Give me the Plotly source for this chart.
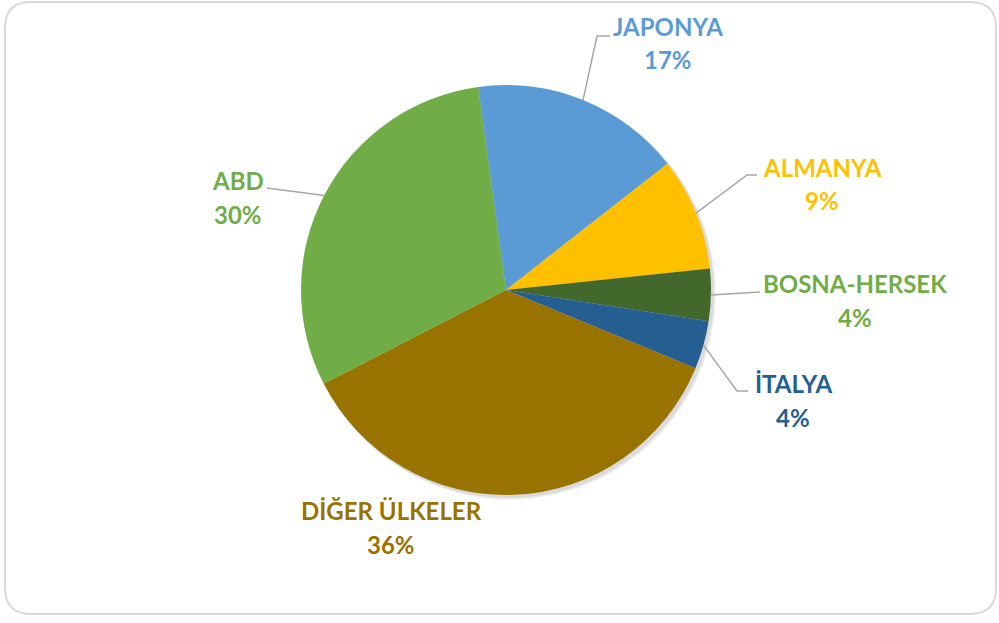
import math
import plotly.graph_objects as go

# ---- data ----
countries = ["JAPONYA", "ALMANYA", "BOSNA-HERSEK", "İTALYA", "DİĞER ÜLKELER", "ABD"]
shares = [16.6, 8.9, 4.1, 3.8, 36.2, 30.4]
slice_colors = ["#5B9BD5", "#FFC000", "#43682B", "#255E91", "#997300", "#70AD47"]
label_colors = ["#5B9BD5", "#FFC000", "#70AD47", "#255E91", "#997300", "#70AD47"]

# ---- layout config (pixels) ----
W, H = 999, 623
CX, CY, R = 506, 290, 205
ROTATION = -7.8
# label centre (name line), elbow point, end point of leader (None = no leader)
label_pos = [(668, 26), (822, 167), (855, 283), (793, 383), (391, 510), (238, 180)]
leader_elbow = [(597, 36), (747, 175), None, (737, 391), None, None]
leader_end = [(610, 36), (757, 175), (760, 292), (748, 391), None, (267, 188)]
LINE_GAP = 34
FONT = "Lato"
FSIZE = 24


def px(x):
    return x / W


def py(y):
    return 1 - y / H


fig = go.Figure()
# soft shadow behind the pie
for k, a in ((5, 0.04), (4, 0.05), (3, 0.06)):
    fig.add_trace(go.Pie(
        values=[1], sort=False, textinfo="none", hoverinfo="skip", showlegend=False,
        marker=dict(colors=[f"rgba(0,0,0,{a})"], line=dict(width=0)),
        domain=dict(x=[px(CX - R + k * 0.6), px(CX + R + k)],
                    y=[py(CY + R + k), py(CY - R + k * 0.6)]),
    ))
fig.add_trace(go.Pie(
    labels=countries,
    values=shares,
    sort=False,
    direction="clockwise",
    rotation=ROTATION,
    marker=dict(colors=slice_colors, line=dict(width=0)),
    textinfo="none",
    hoverinfo="label+percent",
    showlegend=False,
    domain=dict(x=[px(CX - R), px(CX + R)], y=[py(CY + R), py(CY - R)]),
))

total = sum(shares)
annotations = []
shapes = []
cum = 0.0
for i, (name, v) in enumerate(zip(countries, shares)):
    mid = ROTATION + (cum + v / 2) / total * 360
    cum += v
    pct = f"{round(v / total * 100)}%"
    lx, ly = label_pos[i]
    for txt, yy in ((name, ly), (pct, ly + LINE_GAP)):
        annotations.append(dict(
            x=px(lx), y=py(yy), xref="paper", yref="paper",
            text=f"<b>{txt}</b>", showarrow=False,
            xanchor="center", yanchor="middle",
            font=dict(family=FONT, size=FSIZE, color=label_colors[i]),
        ))
    if leader_end[i] is not None:
        sx = CX + R * math.sin(math.radians(mid))
        sy = CY - R * math.cos(math.radians(mid))
        pts = [(sx, sy)]
        if leader_elbow[i] is not None:
            pts.append(leader_elbow[i])
        pts.append(leader_end[i])
        path = "M " + " L ".join(f"{px(a):.5f},{py(b):.5f}" for a, b in pts)
        shapes.append(dict(type="path", xref="paper", yref="paper", path=path,
                           line=dict(color="#A6A6A6", width=1.5)))

# rounded outer border
x0, y0, x1, y1, rr = 5, 2, 996, 614, 26
pth = (f"M {px(x0 + rr)},{py(y0)} L {px(x1 - rr)},{py(y0)} "
       f"Q {px(x1)},{py(y0)} {px(x1)},{py(y0 + rr)} L {px(x1)},{py(y1 - rr)} "
       f"Q {px(x1)},{py(y1)} {px(x1 - rr)},{py(y1)} L {px(x0 + rr)},{py(y1)} "
       f"Q {px(x0)},{py(y1)} {px(x0)},{py(y1 - rr)} L {px(x0)},{py(y0 + rr)} "
       f"Q {px(x0)},{py(y0)} {px(x0 + rr)},{py(y0)} Z")
shapes.append(dict(type="path", xref="paper", yref="paper", path=pth,
                   line=dict(color="#D9D9D9", width=2), layer="below"))

fig.update_layout(
    width=W, height=H,
    margin=dict(l=0, r=0, t=0, b=0),
    paper_bgcolor="white", plot_bgcolor="white",
    annotations=annotations, shapes=shapes,
)
fig.write_html("out.html",
               config={"displayModeBar": False},
               post_script="document.body.style.margin='0';document.body.style.overflow='hidden';")
